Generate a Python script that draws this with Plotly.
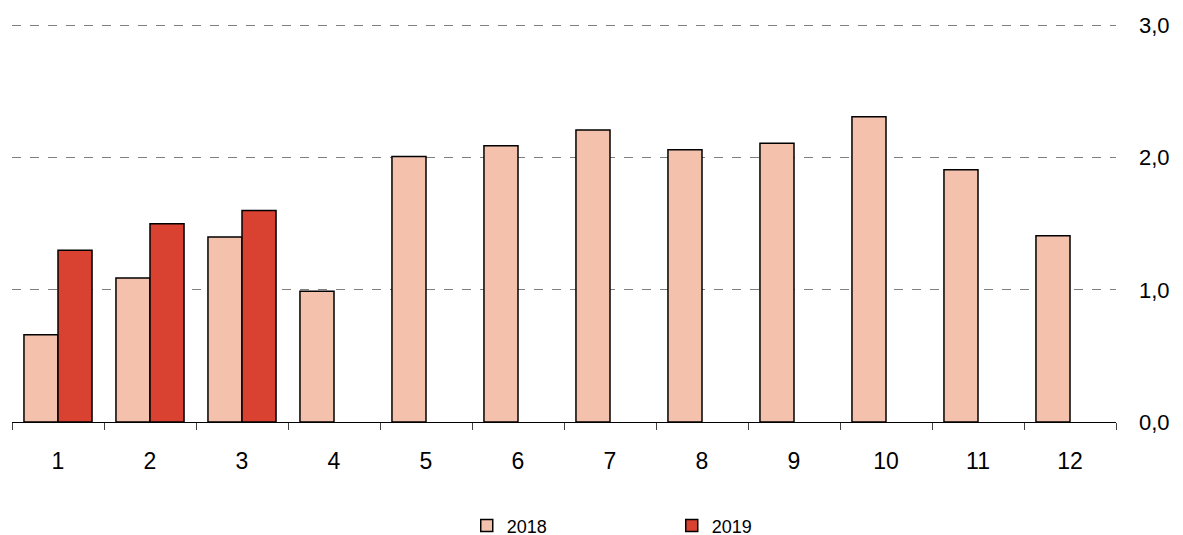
import plotly.graph_objects as go

months = ["1", "2", "3", "4", "5", "6", "7", "8", "9", "10", "11", "12"]
v2018 = [0.66, 1.09, 1.40, 0.99, 2.01, 2.09, 2.21, 2.06, 2.11, 2.31, 1.91, 1.41]
v2019 = [1.30, 1.50, 1.60, None, None, None, None, None, None, None, None, None]
yticks = [0, 1, 2, 3]

fig = go.Figure()
fig.add_trace(go.Bar(x=months, y=v2018, name="2018",
                     marker=dict(color="#F4C1AC", line=dict(color="#000000", width=1.5))))
fig.add_trace(go.Bar(x=months, y=v2019, name="2019",
                     marker=dict(color="#D94131", line=dict(color="#000000", width=1.5))))

fig.update_layout(
    width=1175, height=527,
    margin=dict(l=4, r=67, t=15, b=113, autoexpand=False),
    paper_bgcolor="white", plot_bgcolor="white",
    barmode="group", bargap=0.26, bargroupgap=0,
    separators=", ",
    font=dict(family="Liberation Sans, Arial, sans-serif", color="#000000"),
    showlegend=True,
    legend=dict(orientation="h", x=0.4119, xanchor="left", y=-0.214, yanchor="top",
                font=dict(size=18), entrywidth=160, entrywidthmode="pixels",
                itemclick=False),
    xaxis=dict(type="category", tickson="boundaries", ticks="outside", ticklen=7,
               tickcolor="#404040", tickwidth=1, showline=True, linecolor="#000000",
               linewidth=1, showgrid=False, tickfont=dict(size=23), ticklabelstandoff=18),
    yaxis=dict(side="right", range=[0, 3.02], tickvals=yticks, tickformat=".1f",
               showgrid=True, gridcolor="#808080", griddash="dash", gridwidth=1,
               zeroline=False, showline=False, ticks="", tickfont=dict(size=22),
               ticklabelstandoff=22),
)
fig.write_html("out.html")
